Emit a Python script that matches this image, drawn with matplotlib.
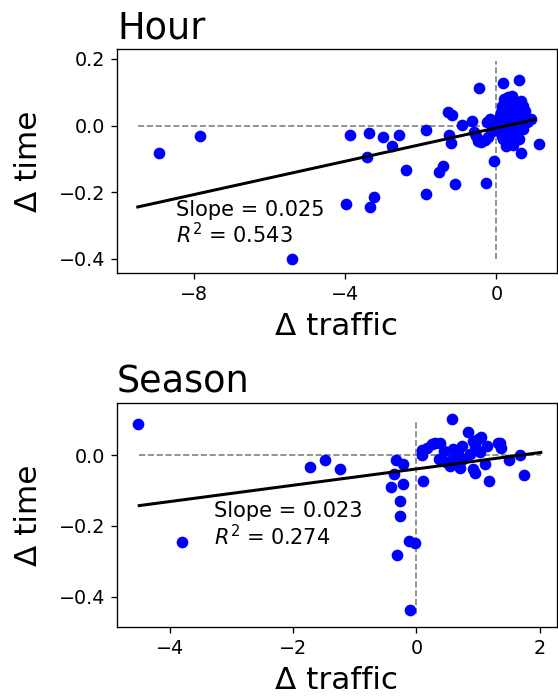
import numpy as np
import matplotlib
matplotlib.use('Agg')
import matplotlib.pyplot as plt

# Hour panel: change in traffic vs change in time
hour_dx = [-8.94, -7.86, -5.42, -3.87, -3.38, -3.00, -2.59, -2.76, -3.42, -3.99,
           -3.35, -3.25, -2.39, -1.86, -1.86, -1.53, -1.42, -1.09, -1.29, -1.19,
           -1.27, -1.21, -0.90, -0.66, -0.45, -0.28, -0.07, -0.18, 0.18, 0.60,
           0.66, 1.13, 0.91, 0.43,
           -0.55, -0.48, -0.40, -0.30, -0.22, -0.15, -0.10, -0.25, -0.60,
           0.05, 0.10, 0.12, 0.15, 0.18, 0.20, 0.22, 0.25, 0.28, 0.30,
           0.32, 0.35, 0.38, 0.40, 0.42, 0.45, 0.48, 0.50, 0.52, 0.55,
           0.58, 0.60, 0.62, 0.65, 0.68, 0.70, 0.75, 0.80, 0.35, 0.25,
           0.15, 0.45, 0.55, 0.70, 0.10, 0.30, 0.40, 0.20]
hour_dt = [-0.081, -0.031, -0.400, -0.029, -0.022, -0.033, -0.029, -0.062, -0.095, -0.235,
           -0.244, -0.216, -0.134, -0.013, -0.207, -0.138, -0.122, -0.177, 0.041, 0.033,
           -0.027, -0.053, 0.001, 0.013, 0.112, -0.174, -0.105, 0.019, 0.127, 0.138,
           -0.081, -0.056, 0.021, -0.057,
           -0.030, -0.045, -0.050, -0.042, -0.035, -0.020, -0.005, 0.010, -0.020,
           0.010, -0.020, 0.040, 0.060, -0.040, 0.020, 0.070, -0.010, 0.050, 0.000,
           0.030, 0.075, -0.030, 0.060, 0.015, 0.045, -0.015, 0.070, 0.030, 0.005,
           0.055, -0.040, 0.040, 0.075, 0.020, 0.060, 0.045, 0.010, -0.050, -0.060,
           -0.030, -0.045, -0.025, -0.010, 0.030, 0.085, 0.090, 0.080]

# Season panel
season_dx = [-4.52, -3.80, -1.72, -1.49, -1.24, -0.33, -0.21, -0.36, -0.41, -0.22,
             -0.26, -0.26, -0.12, -0.02, -0.31, -0.10, 0.10, 0.09, 0.09, 0.17,
             0.30, 0.38, 0.44, 0.36, 0.55, 0.60, 0.60, 0.57, 0.71, 0.74,
             0.76, 0.84, 0.87, 0.92, 0.92, 0.95, 1.00, 1.03, 1.11, 1.14,
             1.17, 1.32, 1.35, 1.37, 1.50, 1.68, 1.75, 0.25, 0.48, 0.68,
             0.95, 1.05]
season_dt = [0.087, -0.246, -0.034, -0.014, -0.038, -0.015, -0.026, -0.052, -0.090, -0.082,
             -0.130, -0.171, -0.243, -0.249, -0.281, -0.438, -0.072, 0.000, 0.015, 0.021,
             0.035, 0.035, 0.011, -0.012, -0.031, 0.016, -0.008, 0.102, -0.036, 0.027,
             -0.012, 0.065, 0.004, 0.041, -0.040, -0.050, 0.044, 0.008, -0.026, 0.025,
             -0.073, 0.035, 0.033, 0.019, -0.015, 0.000, -0.057, 0.030, -0.020, 0.010,
             0.025, 0.050]

# fit results as reported on the chart
panels = [
    dict(title='Hour', x=hour_dx, y=hour_dt, slope=0.025, icpt=-0.007, r2=0.543,
         fit_x=[-9.5, 1.0], vline=[-0.40, 0.195], txt=(-8.5, -0.354),
         xlim=(-10.05, 1.6), ylim=(-0.443, 0.23), xticks=[-8, -4, 0],
         yticks=[-0.4, -0.2, 0.0, 0.2]),
    dict(title='Season', x=season_dx, y=season_dt, slope=0.023, icpt=-0.039, r2=0.274,
         fit_x=[-4.5, 2.02], vline=[-0.447, 0.097], txt=(-3.29, -0.253),
         xlim=(-4.86, 2.28), ylim=(-0.485, 0.147), xticks=[-4, -2, 0, 2],
         yticks=[-0.4, -0.2, 0.0]),
]

fig, axes = plt.subplots(2, 1, figsize=(558 / 120, 696 / 120), dpi=120)
fig.subplots_adjust(left=0.2097, right=0.998, top=0.9296, bottom=0.0991, hspace=0.58)

for ax, p in zip(axes, panels):
    fx = np.array(p['fit_x'])
    ax.plot(fx, [0, 0], '--', color='grey', lw=1, zorder=1)
    ax.plot([0, 0], p['vline'], '--', color='grey', lw=1, zorder=1)
    ax.scatter(p['x'], p['y'], color='b', s=36, zorder=2)
    ax.plot(fx, p['slope'] * fx + p['icpt'], color='k', lw=1.8, zorder=3)
    ax.text(p['txt'][0], p['txt'][1],
            'Slope = %.3f\n$R^2$ = %.3f' % (p['slope'], p['r2']),
            fontsize=12.5, va='baseline', ha='left', linespacing=1.1)
    ax.set_xlim(p['xlim'])
    ax.set_ylim(p['ylim'])
    ax.set_xticks(p['xticks'])
    ax.set_yticks(p['yticks'])
    ax.tick_params(labelsize=11.5)
    ax.set_title(p['title'], loc='left', fontsize=22)
    ax.set_xlabel('Δ traffic', fontsize=18.7, labelpad=5)
    ax.set_ylabel('Δ time', fontsize=18.7, labelpad=9.5)

fig.savefig('out.png', dpi=120)
